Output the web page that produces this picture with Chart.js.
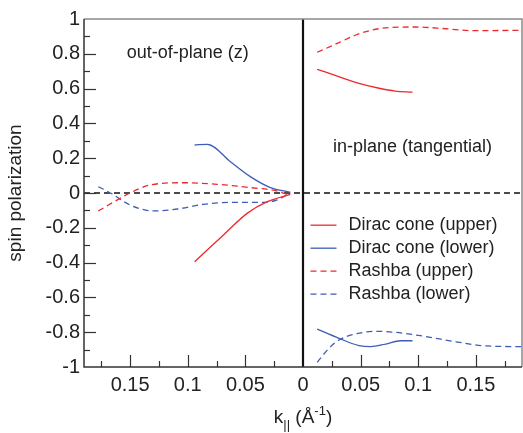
<!DOCTYPE html>
<html>
<head>
<meta charset="utf-8">
<script src="https://cdn.jsdelivr.net/npm/chart.js@4.4.1/dist/chart.umd.min.js"></script>
<style>
  html, body { margin: 0; padding: 0; background: #fff; }
  #wrap { width: 523px; height: 433px; }
</style>
</head>
<body>
<div id="wrap"><canvas id="spinChart" width="523" height="433"></canvas></div>
<script>
// k values (1/A), negative = left half of the plot; null polarization = gap between halves
const diracUpperK = [-0.094, -0.069, -0.0485, -0.031, -0.011, 0, 0.0123, 0.031, 0.0486, 0.066, 0.080, 0.095];
const diracUpperP = [-0.395, -0.241, -0.117, -0.05, -0.008, null, 0.711, 0.669, 0.63, 0.602, 0.586, 0.58];

const diracLowerK = [-0.094, -0.083, -0.063, -0.0457, -0.0283, -0.011, 0, 0.0123, 0.0312, 0.0486, 0.0587, 0.0717, 0.0848, 0.095];
const diracLowerP = [0.276, 0.28, 0.18, 0.094, 0.031, 0.004, null, -0.782, -0.835, -0.877, -0.883, -0.868, -0.849, -0.849];

const rashbaUpperK = [-0.1776, -0.15, -0.1326, -0.1037, -0.0746, -0.0457, -0.0224, -0.011, 0, 0.0123, 0.0312, 0.0457, 0.0601, 0.0775, 0.0978, 0.1239, 0.147, 0.19];
const rashbaUpperP = [-0.103, 0, 0.046, 0.059, 0.05, 0.031, 0.011, -0.015, null, 0.809, 0.864, 0.908, 0.937, 0.952, 0.954, 0.944, 0.933, 0.935];

const rashbaLowerK = [-0.1776, -0.167, -0.15, -0.13, -0.109, -0.0863, -0.063, -0.034, -0.0224, -0.011, 0, 0.0123, 0.0225, 0.0312, 0.0457, 0.063, 0.0775, 0.1037, 0.1326, 0.1587, 0.19];
const rashbaLowerP = [0.036, 0, -0.069, -0.103, -0.092, -0.065, -0.054, -0.054, -0.04, 0, null, -0.973, -0.893, -0.845, -0.81, -0.795, -0.799, -0.822, -0.855, -0.879, -0.883];

const seriesNames = ['Dirac cone (upper)', 'Dirac cone (lower)', 'Rashba (upper)', 'Rashba (lower)'];

// axis ticks
const xTicks = [-0.175, -0.15, -0.125, -0.1, -0.075, -0.05, -0.025, 0, 0.025, 0.05, 0.075, 0.1, 0.125, 0.15, 0.175];
const xLabels = { '-0.15': '0.15', '-0.1': '0.1', '-0.05': '0.05', '0': '0', '0.05': '0.05', '0.1': '0.1', '0.15': '0.15' };
const yTicks = [-1, -0.9, -0.8, -0.7, -0.6, -0.5, -0.4, -0.3, -0.2, -0.1, 0, 0.1, 0.2, 0.3, 0.4, 0.5, 0.6, 0.7, 0.8, 0.9, 1];
const yLabels = { '-1': '-1', '-0.8': '-0.8', '-0.6': '-0.6', '-0.4': '-0.4', '-0.2': '-0.2', '0': '0', '0.2': '0.2', '0.4': '0.4', '0.6': '0.6', '0.8': '0.8', '1': '1' };

const panelNotes = [
    { text: 'out-of-plane (z)', k: -0.1, p: 0.805 },
    { text: 'in-plane (tangential)', k: 0.095, p: 0.262 }
];

const RED = '#ec2a2e';
const BLUE = '#3d5db6';
const FONT = "'Liberation Sans', Arial, Helvetica, sans-serif";

function toPoints(ks, ps) {
    return ks.map((k, i) => ({ x: k, y: ps[i] }));
}

function keyOf(v) {
    return String(Math.round(v * 1000) / 1000);
}

// inward tick marks, zero lines, panel text, legend and x title
const decorPlugin = {
    id: 'decor',
    beforeDatasetsDraw(chart) {
        const ctx = chart.ctx;
        const area = chart.chartArea;
        const xs = chart.scales.x;
        const ys = chart.scales.y;
        ctx.save();
        // dashed zero line
        ctx.strokeStyle = '#111';
        ctx.lineWidth = 1.5;
        ctx.setLineDash([6, 4]);
        ctx.beginPath();
        ctx.moveTo(area.left, ys.getPixelForValue(0));
        ctx.lineTo(area.right, ys.getPixelForValue(0));
        ctx.stroke();
        ctx.setLineDash([]);
        // vertical divider at k = 0
        ctx.lineWidth = 2.2;
        ctx.beginPath();
        ctx.moveTo(xs.getPixelForValue(0), area.top);
        ctx.lineTo(xs.getPixelForValue(0), area.bottom);
        ctx.stroke();
        ctx.restore();
    },
    afterDraw(chart) {
        const ctx = chart.ctx;
        const area = chart.chartArea;
        const xs = chart.scales.x;
        const ys = chart.scales.y;
        ctx.save();

        // frame: top/right grey, left/bottom dark
        ctx.lineWidth = 1.5;
        ctx.strokeStyle = '#8a8a8a';
        ctx.beginPath();
        ctx.moveTo(area.left, area.top);
        ctx.lineTo(area.right, area.top);
        ctx.lineTo(area.right, area.bottom);
        ctx.stroke();
        ctx.strokeStyle = '#333';
        ctx.beginPath();
        ctx.moveTo(area.left, area.top);
        ctx.lineTo(area.left, area.bottom);
        ctx.lineTo(area.right, area.bottom);
        ctx.stroke();

        // ticks pointing into the plot
        ctx.lineWidth = 1.2;
        ctx.strokeStyle = '#333';
        xTicks.forEach(v => {
            if (v === 0) return;
            const px = Math.round(xs.getPixelForValue(v)) + 0.5;
            const len = xLabels[keyOf(v)] !== undefined ? 12 : 6;
            ctx.beginPath();
            ctx.moveTo(px, area.bottom);
            ctx.lineTo(px, area.bottom - len);
            ctx.stroke();
        });
        yTicks.forEach(v => {
            if (v === 1 || v === -1) return;
            const py = Math.round(ys.getPixelForValue(v)) + 0.5;
            const len = yLabels[keyOf(v)] !== undefined ? 12 : 6;
            ctx.beginPath();
            ctx.moveTo(area.left, py);
            ctx.lineTo(area.left + len, py);
            ctx.stroke();
        });

        // panel captions
        ctx.fillStyle = '#222';
        ctx.font = '18px ' + FONT;
        ctx.textAlign = 'center';
        ctx.textBaseline = 'middle';
        panelNotes.forEach(n => {
            ctx.fillText(n.text, xs.getPixelForValue(n.k), ys.getPixelForValue(n.p));
        });

        // legend inside the right panel
        ctx.textAlign = 'left';
        chart.data.datasets.forEach((ds, i) => {
            const y = ys.getPixelForValue(-0.185) + i * 23;
            const x0 = xs.getPixelForValue(0.0065);
            ctx.strokeStyle = ds.borderColor;
            ctx.lineWidth = ds.borderWidth;
            ctx.setLineDash(ds.borderDash || []);
            ctx.beginPath();
            ctx.moveTo(x0, y);
            ctx.lineTo(x0 + 26, y);
            ctx.stroke();
            ctx.setLineDash([]);
            ctx.fillStyle = '#222';
            ctx.fillText(ds.label, x0 + 38, y);
        });

        // x axis title: k with subscript || and unit A^-1
        const big = '19px ' + FONT;
        const small = '13px ' + FONT;
        const parts = [
            { t: 'k', f: big, dy: 0 },
            { t: '||', f: small, dy: 6 },
            { t: ' (Å', f: big, dy: 0 },
            { t: '-1', f: small, dy: -8 },
            { t: ')', f: big, dy: 0 }
        ];
        let total = 0;
        parts.forEach(p => { ctx.font = p.f; p.w = ctx.measureText(p.t).width; total += p.w; });
        let cx = xs.getPixelForValue(0) - total / 2;
        const base = 423;
        ctx.textBaseline = 'alphabetic';
        ctx.fillStyle = '#222';
        parts.forEach(p => {
            ctx.font = p.f;
            ctx.fillText(p.t, cx, base + p.dy);
            cx += p.w;
        });
        ctx.restore();
    }
};

document.addEventListener('DOMContentLoaded', function() {
    const canvas = document.getElementById('spinChart').getContext('2d');

    new Chart(canvas, {
        type: 'line',
        data: {
            datasets: [{
                label: seriesNames[0],
                data: toPoints(diracUpperK, diracUpperP),
                borderColor: RED,
                borderWidth: 1.3,
                borderDash: []
            }, {
                label: seriesNames[1],
                data: toPoints(diracLowerK, diracLowerP),
                borderColor: BLUE,
                borderWidth: 1.3,
                borderDash: []
            }, {
                label: seriesNames[2],
                data: toPoints(rashbaUpperK, rashbaUpperP),
                borderColor: RED,
                borderWidth: 1.3,
                borderDash: [6, 4]
            }, {
                label: seriesNames[3],
                data: toPoints(rashbaLowerK, rashbaLowerP),
                borderColor: BLUE,
                borderWidth: 1.3,
                borderDash: [6, 4]
            }]
        },
        options: {
            responsive: false,
            animation: false,
            devicePixelRatio: 1,
            spanGaps: false,
            elements: {
                point: { radius: 0 },
                line: { cubicInterpolationMode: 'monotone', fill: false }
            },
            layout: { padding: { top: 19, right: 1, left: 0, bottom: 0 } },
            plugins: {
                legend: { display: false },
                tooltip: { enabled: false }
            },
            scales: {
                x: {
                    type: 'linear',
                    min: -0.19,
                    max: 0.19,
                    afterBuildTicks: scale => { scale.ticks = xTicks.map(v => ({ value: v })); },
                    afterFit: scale => { scale.height = 66; },
                    grid: { display: false, drawTicks: false },
                    border: { display: false },
                    ticks: {
                        autoSkip: false,
                        maxRotation: 0,
                        padding: 6,
                        color: '#222',
                        font: { family: FONT, size: 20 },
                        callback: v => xLabels[keyOf(v)] || ''
                    }
                },
                y: {
                    min: -1,
                    max: 1,
                    afterBuildTicks: scale => { scale.ticks = yTicks.map(v => ({ value: v })); },
                    afterFit: scale => { scale.width = 84; },
                    grid: { display: false, drawTicks: false },
                    border: { display: false },
                    title: {
                        display: true,
                        text: 'spin polarization',
                        color: '#222',
                        font: { family: FONT, size: 19 },
                        padding: { top: 4, bottom: 0 }
                    },
                    ticks: {
                        autoSkip: false,
                        padding: 4,
                        color: '#222',
                        font: { family: FONT, size: 20 },
                        callback: v => yLabels[keyOf(v)] || ''
                    }
                }
            }
        },
        plugins: [decorPlugin]
    });
});
</script>
</body>
</html>
